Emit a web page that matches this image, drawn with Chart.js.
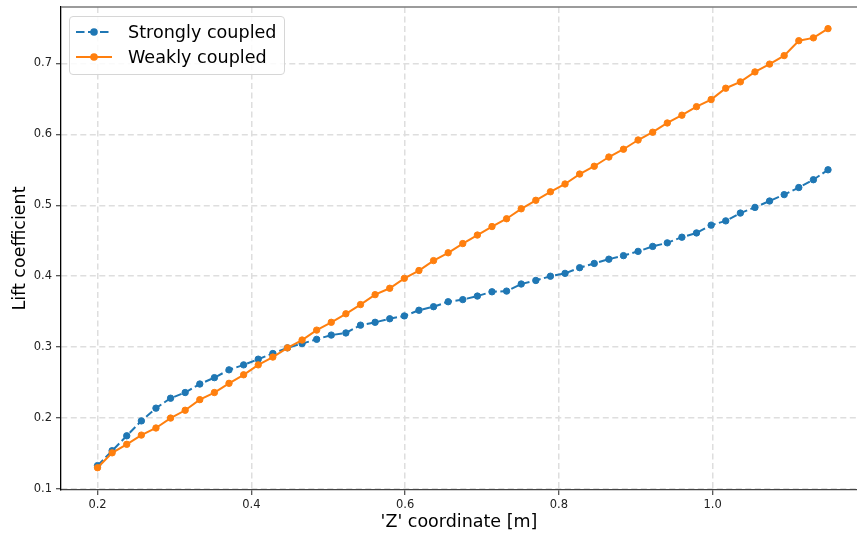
<!DOCTYPE html>
<html><head><meta charset="utf-8">
<script src="https://cdn.jsdelivr.net/npm/chart.js@4.4.0/dist/chart.umd.min.js"></script>
<style>
html,body{margin:0;padding:0;background:#fff;overflow:hidden;}
#wrap{position:relative;width:857px;height:535px;overflow:hidden;}
#chart{position:absolute;left:0;top:0;}
#legend{position:absolute;left:69px;top:16px;width:216px;height:59px;border:1px solid #d6d6d6;border-radius:4px;background:rgba(255,255,255,0.85);box-sizing:border-box;font-family:'DejaVu Sans';font-size:17.6px;color:#000;}
.lrow{position:absolute;left:0;width:100%;height:22px;}
.lrow svg{position:absolute;left:6px;top:0;}
.lrow span{position:absolute;left:58px;top:0;line-height:22px;white-space:nowrap;}
</style>
</head><body>
<div id="wrap">
<canvas id="chart" width="857" height="535"></canvas>
<div id="legend">
  <div class="lrow" style="top:4px"><svg width="37" height="22"><line x1="0" y1="11" x2="36" y2="11" stroke="#1f77b4" stroke-width="2" stroke-dasharray="8.5 3.5"/><circle cx="18" cy="11" r="3.8" fill="#1f77b4"/></svg><span>Strongly coupled</span></div>
  <div class="lrow" style="top:29px"><svg width="37" height="22"><line x1="0" y1="11" x2="36" y2="11" stroke="#ff7f0e" stroke-width="2"/><circle cx="18" cy="11" r="3.8" fill="#ff7f0e"/></svg><span>Weakly coupled</span></div>
</div>
</div>
<script>
// 'Z' coordinate [m]
const zCoord = [0.200,0.219,0.238,0.257,0.276,0.295,0.314,0.333,0.352,0.371,0.390,0.409,0.428,0.447,0.466,0.485,0.504,0.523,0.542,0.561,0.580,0.599,0.618,0.637,0.656,0.675,0.694,0.713,0.732,0.751,0.770,0.789,0.808,0.827,0.846,0.865,0.884,0.903,0.922,0.941,0.960,0.979,0.998,1.017,1.036,1.055,1.074,1.093,1.112,1.131,1.150];
// Lift coefficient
const stronglyCoupled = [0.133,0.154,0.175,0.196,0.214,0.228,0.236,0.248,0.257,0.268,0.275,0.283,0.291,0.299,0.305,0.311,0.317,0.320,0.331,0.335,0.340,0.344,0.352,0.357,0.364,0.367,0.372,0.378,0.379,0.389,0.394,0.400,0.404,0.412,0.418,0.424,0.429,0.435,0.442,0.447,0.455,0.461,0.472,0.478,0.489,0.497,0.506,0.515,0.525,0.536,0.550];
const weaklyCoupled = [0.130,0.151,0.163,0.176,0.186,0.200,0.211,0.226,0.236,0.249,0.261,0.275,0.286,0.299,0.310,0.324,0.335,0.347,0.360,0.374,0.383,0.397,0.408,0.422,0.433,0.446,0.458,0.470,0.481,0.495,0.507,0.519,0.530,0.544,0.555,0.568,0.579,0.592,0.603,0.616,0.627,0.639,0.649,0.665,0.674,0.688,0.699,0.711,0.732,0.736,0.749];
const xTicks = [0.2,0.4,0.6,0.8,1.0];
const yTicks = [0.1,0.2,0.3,0.4,0.5,0.6,0.7];

const FONT = 'DejaVu Sans';
const topLine = {
  id:'topLine',
  afterDraw(chart){
    const {ctx, chartArea:a} = chart;
    ctx.save();
    ctx.strokeStyle = '#7a7a7a';
    ctx.lineWidth = 1.4;
    ctx.beginPath();
    ctx.moveTo(a.left, a.top);
    ctx.lineTo(chart.width, a.top);
    ctx.stroke();
    ctx.restore();
  }
};

const gridOpts = {color:'#dedede', lineWidth:1.5, tickLength:5, tickColor:'#222', tickWidth:1, tickBorderDash:[]};
const noPad = s => { s.paddingLeft = 0; s.paddingRight = 0; s.paddingTop = 0; s.paddingBottom = 0; };

new Chart(document.getElementById('chart').getContext('2d'), {
  type:'scatter',
  data:{datasets:[
    {label:'Weakly coupled', data:zCoord.map((x,i)=>({x:x, y:weaklyCoupled[i]})), showLine:true,
     borderColor:'#ff7f0e', backgroundColor:'#ff7f0e', borderWidth:2, pointRadius:3.2, pointBorderWidth:1, pointHoverRadius:3.2, order:0},
    {label:'Strongly coupled', data:zCoord.map((x,i)=>({x:x, y:stronglyCoupled[i]})), showLine:true,
     borderColor:'#1f77b4', backgroundColor:'#1f77b4', borderWidth:2, borderDash:[8,3.5], pointRadius:3.2, pointBorderWidth:1, pointHoverRadius:3.2, order:1}
  ]},
  options:{
    responsive:false, animation:false, devicePixelRatio:1,
    layout:{autoPadding:false, padding:{left:0,right:0,top:7,bottom:0}},
    plugins:{legend:{display:false}, tooltip:{enabled:false}},
    scales:{
      x:{type:'linear', min:0.1525, max:1.1877,
         afterBuildTicks:s=>{s.ticks = xTicks.map(v=>({value:v}));},
         afterFit:s=>{s.height = 45; noPad(s);},
         grid:gridOpts,
         border:{display:true, color:'#444', width:1.3, dash:[6,3.5]},
         ticks:{font:{family:FONT, size:11.5}, color:'#222', padding:3, maxRotation:0, callback:v=>Number(v).toFixed(1)},
         title:{display:true, text:"'Z' coordinate [m]", font:{family:FONT, size:17.5}, color:'#000', padding:{top:0,bottom:2.5}}},
      y:{type:'linear', min:0.0986, max:0.7795,
         afterBuildTicks:s=>{s.ticks = yTicks.map(v=>({value:v}));},
         afterFit:s=>{s.width = 61; noPad(s);},
         grid:gridOpts,
         border:{display:true, color:'#000', width:1.3, dash:[6,3.5]},
         ticks:{font:{family:FONT, size:11.5}, color:'#222', padding:4, callback:v=>Number(v).toFixed(1)},
         title:{display:true, text:'Lift coefficient', font:{family:FONT, size:17.5}, color:'#000', padding:{top:9.5,bottom:0}}}
    }
  },
  plugins:[topLine]
});
</script>
</body></html>
